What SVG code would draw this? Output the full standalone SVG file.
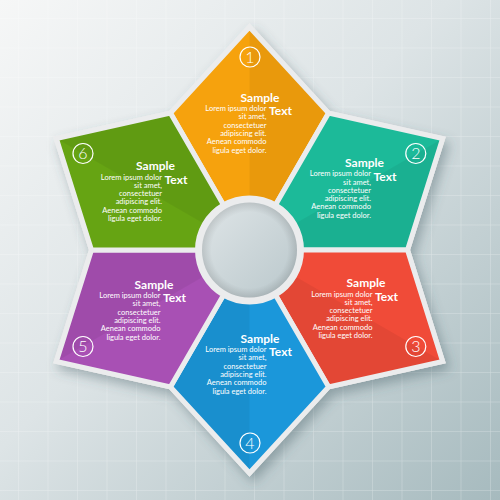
<svg xmlns="http://www.w3.org/2000/svg" xmlns:xlink="http://www.w3.org/1999/xlink" width="500" height="500" viewBox="0 0 500 500">
<defs>
<linearGradient id="bg" x1="0" y1="0" x2="1" y2="1">
<stop offset="0" stop-color="#f6f7f7"/>
<stop offset="0.45" stop-color="#dde4e6"/>
<stop offset="1" stop-color="#a6babe"/>
</linearGradient>
<pattern id="grid" width="29.5" height="29.5" patternUnits="userSpaceOnUse" x="18" y="18">
<path d="M0 0H29.5M0 0V29.5" fill="none" stroke="#ffffff" stroke-opacity="0.4" stroke-width="1"/>
</pattern>
<linearGradient id="hole" x1="0" y1="0" x2="1" y2="1">
<stop offset="0" stop-color="#e0e6e8"/>
<stop offset="0.5" stop-color="#ccd6d9"/>
<stop offset="1" stop-color="#b9c7cb"/>
</linearGradient>
<radialGradient id="holeShade" cx="0.5" cy="0.5" r="0.5">
<stop offset="0.8" stop-color="#000" stop-opacity="0"/>
<stop offset="1" stop-color="#000" stop-opacity="0.12"/>
</radialGradient>
<filter id="shadow" x="-10%" y="-10%" width="130%" height="130%">
<feDropShadow dx="4" dy="6" stdDeviation="6" flood-color="#40585e" flood-opacity="0.4"/>
</filter>
<path id="s1" d="M223.5,204.97 L170.5,113.17 L249.5,27 L328.5,113.17 L275.5,204.97 A52,52 0 0 0 223.5,204.97 Z"/>
<path id="s2" d="M275.5,204.97 L328.5,113.17 L442.62,138.5 L407.5,250 L301.5,250 A52,52 0 0 0 275.5,204.97 Z"/>
<path id="s3" d="M301.5,250 L407.5,250 L442.62,361.5 L328.5,386.83 L275.5,295.03 A52,52 0 0 0 301.5,250 Z"/>
<path id="s4" d="M275.5,295.03 L328.5,386.83 L249.5,473 L170.5,386.83 L223.5,295.03 A52,52 0 0 0 275.5,295.03 Z"/>
<path id="s5" d="M223.5,295.03 L170.5,386.83 L56.38,361.5 L91.5,250 L197.5,250 A52,52 0 0 0 223.5,295.03 Z"/>
<path id="s6" d="M197.5,250 L91.5,250 L56.38,138.5 L170.5,113.17 L223.5,204.97 A52,52 0 0 0 197.5,250 Z"/>
<g id="body">
<text x="6.5" y="9.5" class="b">Lorem ipsum dolor</text>
<text x="6.5" y="17.8" class="b">sit amet,</text>
<text x="6.5" y="26.1" class="b">consectetuer</text>
<text x="6.5" y="34.4" class="b">adipiscing elit.</text>
<text x="6.5" y="42.7" class="b">Aenean commodo</text>
<text x="6.5" y="51" class="b">ligula eget dolor.</text>
</g>
</defs>
<style>
.edge{fill:none;stroke:#ebeced;stroke-width:5;stroke-linejoin:miter}
.dark{fill:#000;fill-opacity:0.05}
.t{font-family:Lato,"Liberation Sans",sans-serif;font-weight:bold;font-size:12px;fill:#ffffff;text-anchor:middle}
.b{font-family:Lato,"Liberation Sans",sans-serif;font-size:7.5px;fill:#ffffff;text-anchor:end}
.nc{fill:none;stroke:#ffffff;stroke-width:1.2}
.n{font-family:Lato,"Liberation Sans",sans-serif;font-weight:300;font-size:16px;fill:#ffffff;text-anchor:middle}
</style>
<rect x="0" y="0" width="500" height="500" fill="url(#bg)"/>
<rect x="0" y="0" width="500" height="500" fill="url(#grid)"/>
<polygon points="249.5,27 328.5,113.17 442.62,138.5 407.5,250 442.62,361.5 328.5,386.83 249.5,473 170.5,386.83 56.38,361.5 91.5,250 56.38,138.5 170.5,113.17" fill="#ebeced" stroke="#ebeced" stroke-width="5" stroke-linejoin="miter" filter="url(#shadow)"/>
<g id="seg1">
<use xlink:href="#s1" fill="#f6a20d"/>
<polygon class="dark" points="249.5,27 328.5,113.17 275.5,204.97 249.5,198"/>
<use xlink:href="#s1" class="edge"/>
</g>
<g id="seg2">
<use xlink:href="#s2" fill="#1cba99"/>
<polygon class="dark" points="442.62,138.5 407.5,250 301.5,250 294.5,224"/>
<use xlink:href="#s2" class="edge"/>
</g>
<g id="seg3">
<use xlink:href="#s3" fill="#f04b38"/>
<polygon class="dark" points="442.62,361.5 328.5,386.83 275.5,295.03 294.5,276"/>
<use xlink:href="#s3" class="edge"/>
</g>
<g id="seg4">
<use xlink:href="#s4" fill="#1b97da"/>
<polygon class="dark" points="249.5,473 170.5,386.83 223.5,295.03 249.5,302"/>
<use xlink:href="#s4" class="edge"/>
</g>
<g id="seg5">
<use xlink:href="#s5" fill="#a850b4"/>
<polygon class="dark" points="56.38,361.5 91.5,250 197.5,250 204.5,276"/>
<use xlink:href="#s5" class="edge"/>
</g>
<g id="seg6">
<use xlink:href="#s6" fill="#66a413"/>
<polygon class="dark" points="56.38,138.5 170.5,113.17 223.5,204.97 204.5,224"/>
<use xlink:href="#s6" class="edge"/>
</g>
<g id="center">
<circle cx="249.5" cy="250" r="50" fill="url(#hole)" stroke="#ebeced" stroke-width="5"/>
<circle cx="249.5" cy="250" r="47.5" fill="url(#holeShade)"/>
</g>
<g id="label1" transform="translate(260,101.5)">
<text x="0" y="0" class="t">Sample</text><text x="20.5" y="13.8" class="t">Text</text><use xlink:href="#body"/>
</g>
<g id="label2" transform="translate(364.5,166.8)">
<text x="0" y="0" class="t">Sample</text><text x="20.5" y="13.8" class="t">Text</text><use xlink:href="#body"/>
</g>
<g id="label3" transform="translate(366,287)">
<text x="0" y="0" class="t">Sample</text><text x="20.5" y="13.8" class="t">Text</text><use xlink:href="#body"/>
</g>
<g id="label4" transform="translate(260,342.7)">
<text x="0" y="0" class="t">Sample</text><text x="20.5" y="13.8" class="t">Text</text><use xlink:href="#body"/>
</g>
<g id="label5" transform="translate(154,288.5)">
<text x="0" y="0" class="t">Sample</text><text x="20.5" y="13.8" class="t">Text</text><use xlink:href="#body"/>
</g>
<g id="label6" transform="translate(155.5,170)">
<text x="0" y="0" class="t">Sample</text><text x="20.5" y="13.8" class="t">Text</text><use xlink:href="#body"/>
</g>
<g id="num1"><circle cx="250" cy="57" r="10" class="nc"/><text x="250" y="62.6" class="n">1</text></g>
<g id="num2"><circle cx="415.8" cy="153.5" r="10" class="nc"/><text x="415.8" y="159.1" class="n">2</text></g>
<g id="num3"><circle cx="415.8" cy="346.5" r="10" class="nc"/><text x="415.8" y="352.1" class="n">3</text></g>
<g id="num4"><circle cx="250" cy="443" r="10" class="nc"/><text x="250" y="448.6" class="n">4</text></g>
<g id="num5"><circle cx="83" cy="346.5" r="10" class="nc"/><text x="83" y="352.1" class="n">5</text></g>
<g id="num6"><circle cx="83" cy="153.5" r="10" class="nc"/><text x="83" y="159.1" class="n">6</text></g>
</svg>
